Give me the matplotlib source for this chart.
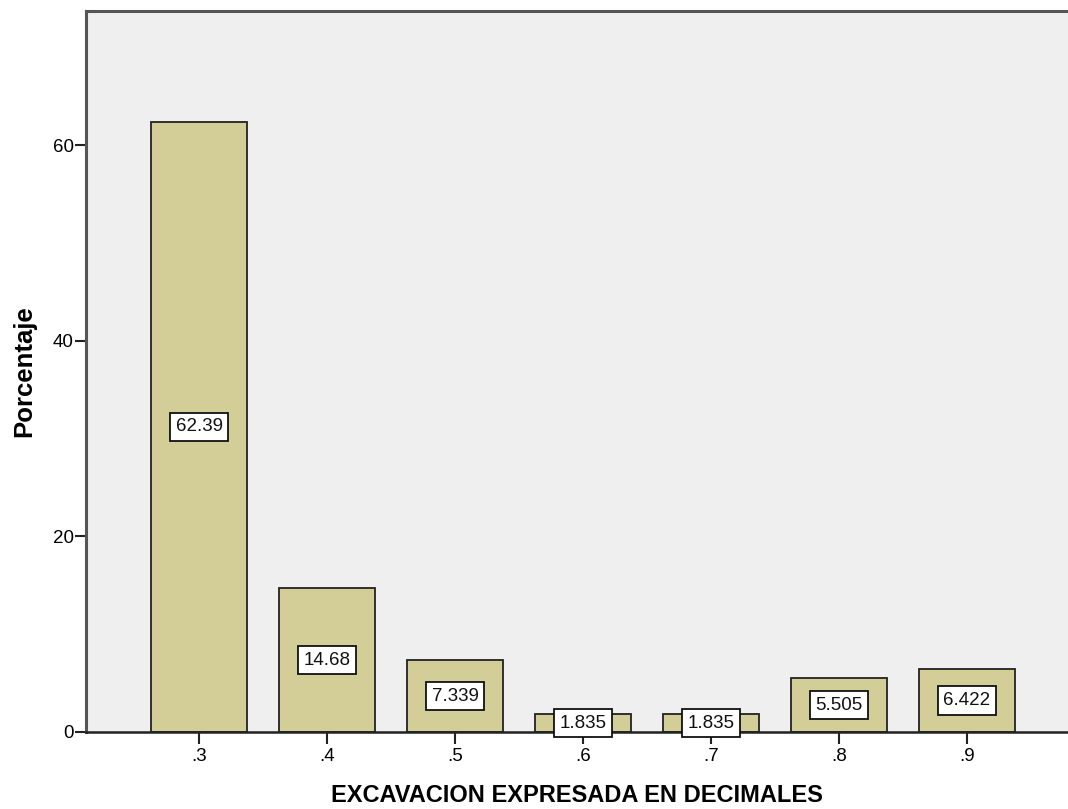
import matplotlib
matplotlib.use("Agg")
import matplotlib.pyplot as plt

plt.rcParams['font.family'] = ['Liberation Sans', 'DejaVu Sans']

categories = [".3", ".4", ".5", ".6", ".7", ".8", ".9"]
percentages = [62.39, 14.68, 7.339, 1.835, 1.835, 5.505, 6.422]
value_labels = ["62.39", "14.68", "7.339", "1.835", "1.835", "5.505", "6.422"]
y_ticks = [0, 20, 40, 60]

fig = plt.figure(figsize=(10.68, 8.09), dpi=100)
ax = fig.add_axes([86 / 1068, 77 / 809, 1 - 86 / 1068, 721 / 809])
ax.set_facecolor("#efefef")

x = list(range(len(categories)))
ax.bar(x, percentages, width=0.75, color="#d3ce97", edgecolor="#222222",
       linewidth=1.3, zorder=2)

for xi, val, lab in zip(x, percentages, value_labels):
    ax.text(xi, val / 2, lab, ha="center", va="center", fontsize=13.5,
            color="#111111", zorder=4,
            bbox=dict(boxstyle="square,pad=0.3", facecolor="white",
                      edgecolor="#111111", linewidth=1.3))

ax.set_xlim(-0.883, 6.79)
ax.set_ylim(0, 73.7)
ax.set_xticks(x)
ax.set_xticklabels(categories, fontsize=13.5)
ax.set_yticks(y_ticks)
ax.set_yticklabels([str(t) for t in y_ticks], fontsize=13.5)
ax.tick_params(axis="y", length=8, width=1.5, pad=1, color="#222222")
ax.tick_params(axis="x", length=8.5, width=1.5, pad=3, color="#222222")

for side in ("left", "top"):
    ax.spines[side].set_color("#555555")
    ax.spines[side].set_linewidth(2.2)
ax.spines["bottom"].set_color("#222222")
ax.spines["bottom"].set_linewidth(1.8)
ax.spines["right"].set_visible(False)

ax.set_xlabel("EXCAVACION EXPRESADA EN DECIMALES", fontsize=17,
              fontweight="bold", labelpad=14)
ax.set_ylabel("Porcentaje", fontsize=18.5, fontweight="bold", labelpad=12)

fig.savefig("out.png", dpi=100)
